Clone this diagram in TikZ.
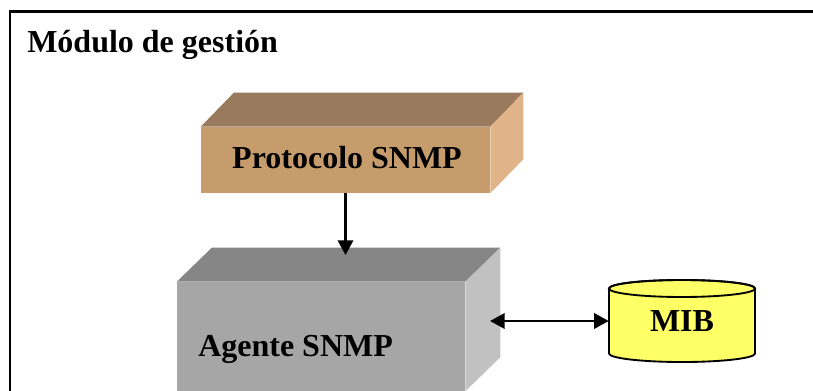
\documentclass[tikz,border=0pt]{standalone}
\usepackage{fontspec}
\setmainfont{Liberation Serif}
\usetikzlibrary{arrows.meta,calc}

\definecolor{protofront}{RGB}{198,156,109}
\definecolor{prototop}{RGB}{153,122,92}
\definecolor{protoside}{RGB}{224,180,136}
\definecolor{agfront}{RGB}{166,166,166}
\definecolor{agtopcol}{RGB}{134,134,134}
\definecolor{agsidecol}{RGB}{193,193,193}
\definecolor{mibyellow}{RGB}{255,255,102}

\begin{document}
\begin{tikzpicture}[x=0.75pt,y=0.75pt,
	lbl/.style={font=\bfseries\fontsize{24}{28}\selectfont},
	face/.style={lbl,inner sep=0pt},
	link/.style={line width=1.9pt},
	>={Triangle[length=11pt,width=11.5pt]}]
			\useasboundingbox (0,0) rectangle (813,390);
			\clip (0,0) rectangle (813,390);

			% frame of the module
			\draw[line width=2.2pt] (10,-10) -- (10,378.5) -- (830,378.5);
			\node[lbl,anchor=base west,inner sep=0pt] (title) at (27,337) {Módulo de gestión};

			% front faces
			\node[face,fill=protofront,minimum width=216.75pt,minimum height=49.5pt] (proto) at (345.5,230) {};
			\node[lbl,anchor=base,inner sep=0pt] (prototxt) at (347,222) {Protocolo SNMP};
			\node[face,fill=agfront,minimum width=216pt,minimum height=81.75pt] (agente) at (321,53.5) {};
			\node[lbl,anchor=base west,inner sep=0pt] (agtxt) at (198,34) {Agente SNMP};

			% top and side faces
			\foreach \n/\d/\ct/\cs in {proto/33/prototop/protoside, agente/35/agtopcol/agsidecol}
			{
				\fill[\ct] (\n.north west) -- ++(\d,34) -- ($(\n.north east)+(\d,34)$) -- (\n.north east) -- cycle;
				\fill[\cs] (\n.north east) -- ++(\d,34) -- ($(\n.south east)+(\d,34)$) -- (\n.south east) -- cycle;
			}

			% MIB cylinder
			\draw[line width=1.4pt,fill=mibyellow] (609,101.5) -- (609,36.5)
				arc[start angle=180,end angle=360,x radius=73,y radius=8.5]
				-- (755,101.5)
				arc[start angle=0,end angle=180,x radius=73,y radius=8.5] -- cycle;
			\draw[line width=1.4pt] (682,101.5) ellipse[x radius=73,y radius=8.5];
			\node[face,minimum width=109.5pt,minimum height=61.5pt] (mib) at (682,69) {MIB};

			% connectors
			\coordinate (agin) at (345.5,135);
			\coordinate (agport) at (490,69);
			\draw[link,->] (proto.south) -- (agin);
			\draw[link,<->] (agport) -- (mib.west);
		\end{tikzpicture}
\end{document}
